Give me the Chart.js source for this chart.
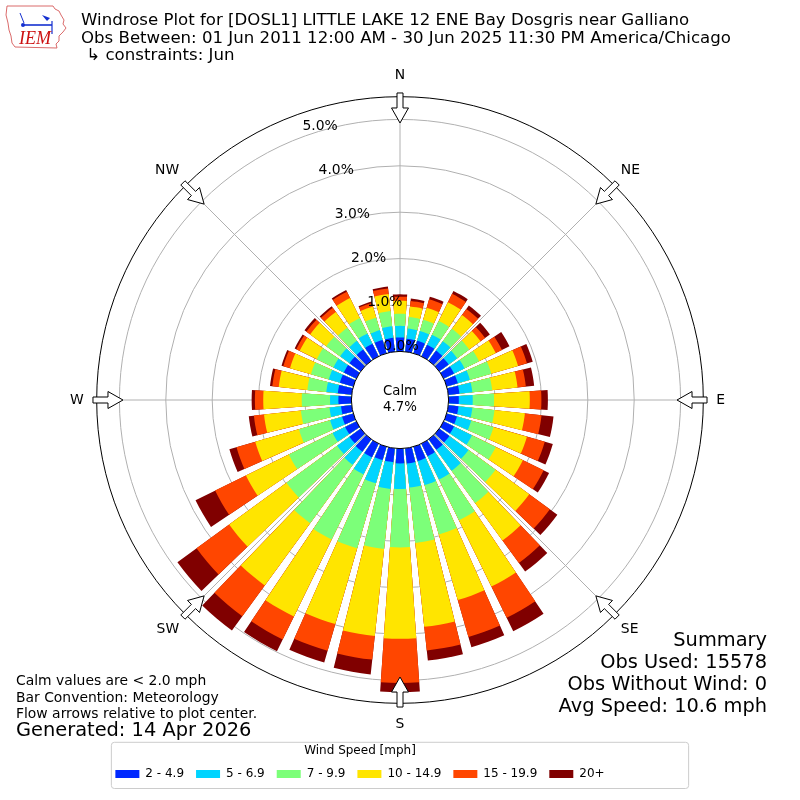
<!DOCTYPE html>
<html>
<head>
<meta charset="utf-8">
<script src="https://cdn.jsdelivr.net/npm/chart.js@4.4.1/dist/chart.umd.min.js"></script>
<style>
html,body{margin:0;padding:0;background:#fff;}
#wrap{position:relative;width:800px;height:800px;overflow:hidden;font-family:'DejaVu Sans',sans-serif;color:#000;}
#c{position:absolute;left:0;top:0;}
.t{position:absolute;white-space:pre;}
</style>
</head>
<body>
<div id="wrap">
<canvas id="c" width="800" height="800"></canvas>
<svg style="position:absolute;left:3px;top:3px" width="66" height="48" viewBox="0 0 66 48">
  <path d="M4 3 L50 3 L52 6 L56 8 L58 12 L61 17 L60 21 L63 25 L60 29 L56 33 L56 38 L53 41 L54 45 L12 44 L9 40 L8 33 L6 27 L5 20 L3 12 Z" fill="#fff" stroke="#d65a5a" stroke-width="0.9"/>
  <line x1="19" y1="22" x2="49" y2="22" stroke="#1530d0" stroke-width="1.6"/>
  <line x1="17" y1="10" x2="21" y2="20" stroke="#1530d0" stroke-width="1"/>
  <circle cx="20" cy="22" r="2" fill="#1530d0"/>
  <path d="M39 12 L47 15 L44 18 Z" fill="#1530d0"/>
  <line x1="49" y1="18" x2="49" y2="31" stroke="#1530d0" stroke-width="1.2"/>
  <text x="16" y="41" font-family="Liberation Serif" font-style="italic" font-size="18" fill="#cc1111">IEM</text>
</svg>
<div class="t" style="left:81px;top:11px;font-size:16.6px;line-height:17.5px;">Windrose Plot for [DOSL1] LITTLE LAKE 12 ENE Bay Dosgris near Galliano
Obs Between: 01 Jun 2011 12:00 AM - 30 Jun 2025 11:30 PM America/Chicago
 ↳ constraints: Jun</div>
<div class="t" style="right:33px;top:629px;font-size:19.4px;line-height:22px;text-align:right;">Summary
Obs Used: 15578
Obs Without Wind: 0
Avg Speed: 10.6 mph</div>
<div class="t" style="left:16px;top:672px;font-size:13.9px;line-height:16.5px;">Calm values are &lt; 2.0 mph
Bar Convention: Meteorology
Flow arrows relative to plot center.</div>
<div class="t" style="left:16px;top:719px;font-size:19.4px;line-height:22px;">Generated: 14 Apr 2026</div>
</div>
<script>
// ---- data (percent of observations, per 10-degree direction bin, N clockwise) ----
const DIRECTIONS = [0,10,20,30,40,50,60,70,80,90,100,110,120,130,140,150,160,170,180,190,200,210,220,230,240,250,260,270,280,290,300,310,320,330,340,350];
const SPEED_LABELS = ['2 - 4.9','5 - 6.9','7 - 9.9','10 - 14.9','15 - 19.9','20+'];
const COLORS = ['#0028ff','#00d4ff','#7cff79','#ffe500','#ff4600','#800000'];
const S_2_5   = [0.30,0.28,0.28,0.28,0.27,0.25,0.25,0.25,0.24,0.22,0.22,0.23,0.25,0.27,0.28,0.30,0.32,0.33,0.32,0.30,0.30,0.33,0.33,0.30,0.27,0.25,0.23,0.28,0.30,0.30,0.30,0.30,0.30,0.30,0.30,0.30];
const S_5_7   = [0.25,0.22,0.22,0.24,0.25,0.23,0.25,0.27,0.28,0.30,0.30,0.32,0.43,0.51,0.56,0.56,0.54,0.52,0.55,0.58,0.52,0.41,0.35,0.33,0.30,0.27,0.25,0.18,0.25,0.25,0.25,0.25,0.23,0.25,0.22,0.25];
const S_7_10  = [0.26,0.25,0.25,0.33,0.33,0.32,0.35,0.48,0.43,0.46,0.48,0.50,0.57,0.72,0.86,0.98,1.11,1.20,1.26,1.30,1.46,1.56,1.56,1.35,1.05,0.70,0.62,0.61,0.41,0.40,0.40,0.37,0.35,0.37,0.28,0.33];
const S_10_15 = [0.28,0.23,0.27,0.45,0.37,0.30,0.40,0.60,0.55,0.77,0.66,0.75,0.65,0.90,1.00,1.59,1.47,1.82,1.97,1.89,1.70,1.85,1.66,1.53,1.03,0.98,0.80,0.83,0.62,0.47,0.41,0.43,0.42,0.48,0.25,0.37];
const S_15_20 = [0.09,0.12,0.19,0.20,0.16,0.12,0.15,0.20,0.18,0.25,0.36,0.40,0.50,0.55,0.60,0.75,0.83,0.51,0.95,0.51,0.60,0.55,0.82,0.87,0.74,0.42,0.22,0.18,0.14,0.15,0.08,0.10,0.11,0.15,0.08,0.12];
const S_20P   = [0.05,0.05,0.06,0.07,0.09,0.13,0.18,0.13,0.18,0.14,0.26,0.18,0.13,0.20,0.23,0.32,0.23,0.22,0.20,0.32,0.26,0.28,0.38,0.51,0.47,0.16,0.11,0.07,0.05,0.04,0.04,0.05,0.04,0.04,0.03,0.04];
const COMPASS = ['N','NE','E','SE','S','SW','W','NW'];
const R_TICKS = [0,1,2,3,4,5];
const R_MIN = -1.048, R_MAX = 5.49;
const CALM_TEXT = ['Calm','4.7%'];

// ---- build stacked (cumulative) series ----
const CLASSES = [S_2_5,S_5_7,S_7_10,S_10_15,S_15_20,S_20P];
const cum = [];
let run = DIRECTIONS.map(() => 0);
CLASSES.forEach(arr => { run = run.map((v,i) => v + arr[i]); cum.push(run.slice()); });

// arcs: each 10-degree bin drawn as a 7.8-degree bar plus 2.2-degree gap, starting at north
const BAR = 7.8, GAP = 10 - BAR;
const segs = [{bin:0, angle:BAR/2}];
for (let i = 1; i < DIRECTIONS.length; i++) { segs.push({bin:-1, angle:GAP}); segs.push({bin:i, angle:BAR}); }
segs.push({bin:-1, angle:GAP});
segs.push({bin:0, angle:BAR/2});

const datasets = cum.map((c,k) => ({
  label: SPEED_LABELS[k],
  data: segs.map(s => s.bin < 0 ? 0 : c[s.bin]),
  backgroundColor: segs.map(s => s.bin < 0 ? 'rgba(0,0,0,0)' : COLORS[k]),
  borderWidth: 0,
  angle: (ctx) => segs[ctx.dataIndex] ? segs[ctx.dataIndex].angle : BAR
}));

Chart.defaults.font.family = "'DejaVu Sans', sans-serif";
Chart.defaults.color = '#000';

const legendShift = {
  id: 'legendShift',
  afterLayout(chart) { const lg = chart.legend; if (lg) { lg.left -= 38; lg.right -= 38; } }
};

function drawArrow(ctx, cx, cy, D, a) {
  const ux = Math.sin(a), uy = -Math.cos(a), px = Math.cos(a), py = Math.sin(a);
  const pts = [[D+3.7,-3],[D+3.7,3],[D-11.3,3],[D-11.3,8.5],[D-26.3,0],[D-11.3,-8.5],[D-11.3,-3]];
  ctx.beginPath();
  pts.forEach(([r,p],i) => { const x = cx + ux*r + px*p, y = cy + uy*r + py*p; if (i) ctx.lineTo(x,y); else ctx.moveTo(x,y); });
  ctx.closePath();
  ctx.fillStyle = '#fff'; ctx.fill();
  ctx.strokeStyle = '#000'; ctx.lineWidth = 1; ctx.stroke();
}

const decor = {
  id: 'decor',
  afterDraw(chart) {
    const ctx = chart.ctx, s = chart.scales.r;
    const cx = s.xCenter, cy = s.yCenter, D = s.drawingArea;
    const r0 = s.getDistanceFromCenterForValue(0);
    ctx.save();
    // calm circle
    ctx.beginPath(); ctx.arc(cx, cy, r0, 0, Math.PI*2);
    ctx.fillStyle = '#fff'; ctx.fill();
    ctx.strokeStyle = '#000'; ctx.lineWidth = 1; ctx.stroke();
    ctx.fillStyle = '#000';
    ctx.textAlign = 'center'; ctx.textBaseline = 'middle';
    ctx.font = "13.3px 'DejaVu Sans'";
    ctx.fillText(CALM_TEXT[0], cx, cy - 8);
    ctx.fillText(CALM_TEXT[1], cx, cy + 8);
    // radial tick labels
    ctx.font = "13.9px 'DejaVu Sans'";
    R_TICKS.forEach(v => {
      const d = s.getDistanceFromCenterForValue(v) - r0;
      ctx.fillText(v.toFixed(1) + '%', cx + 1 - 0.349*d, cy - r0 - 5.4 - 0.948*d);
    });
    // flow arrows
    COMPASS.forEach((_, i) => drawArrow(ctx, cx, cy, D, s.getIndexAngle(i)));
    // legend frame
    const lg = chart.legend;
    if (lg && lg.legendHitBoxes && lg.legendHitBoxes.length) {
      const l = lg.legendHitBoxes[0].left - 4, r = 2*cx - l;
      const t = lg.top + 8.5, b = lg.bottom - 1.5;
      ctx.beginPath();
      if (ctx.roundRect) ctx.roundRect(l, t, r - l, b - t, 3); else ctx.rect(l, t, r - l, b - t);
      ctx.strokeStyle = '#cccccc'; ctx.lineWidth = 1; ctx.stroke();
    }
    ctx.restore();
  }
};

new Chart(document.getElementById('c'), {
  type: 'polarArea',
  data: { datasets },
  plugins: [legendShift, decor],
  options: {
    responsive: false,
    animation: false,
    events: [],
    layout: { padding: { left: 65, right: 69, top: 67, bottom: 10 } },
    scales: {
      r: {
        type: 'radialLinear',
        min: R_MIN, max: R_MAX,
        startAngle: 0,
        labels: COMPASS,
        z: 1,
        ticks: { display: false },
        afterBuildTicks: (sc) => { sc.ticks = R_TICKS.concat([R_MAX]).map(v => ({value: v})); },
        grid: {
          circular: true,
          lineWidth: 1,
          color: (ctx) => {
            const v = ctx.tick ? ctx.tick.value : 1;
            if (v >= R_MAX - 1e-9) return '#000000';
            if (v <= 0) return 'rgba(0,0,0,0)';
            return '#b0b0b0';
          }
        },
        angleLines: { display: true, color: '#b0b0b0', lineWidth: 1 },
        pointLabels: {
          display: true,
          padding: (ctx) => (ctx.index % 2 === 0 ? 13 : 9),
          font: { size: 13.9 },
          color: '#000'
        }
      }
    },
    plugins: {
      tooltip: { enabled: false },
      legend: {
        display: true,
        position: 'bottom',
        align: 'center',
        onClick: null,
        title: { display: true, text: 'Wind Speed [mph]', color: '#000', font: { size: 12, lineHeight: 0.9 }, padding: { top: 11.4, bottom: 0 } },
        labels: {
          boxWidth: 24, boxHeight: 8, padding: 12, color: '#000', font: { size: 12 },
          generateLabels: (chart) => chart.data.datasets.map((ds, i) => ({
            text: ds.label, fillStyle: COLORS[i], strokeStyle: COLORS[i], lineWidth: 0, hidden: false, datasetIndex: i
          }))
        }
      }
    }
  }
});
</script>
</body>
</html>
